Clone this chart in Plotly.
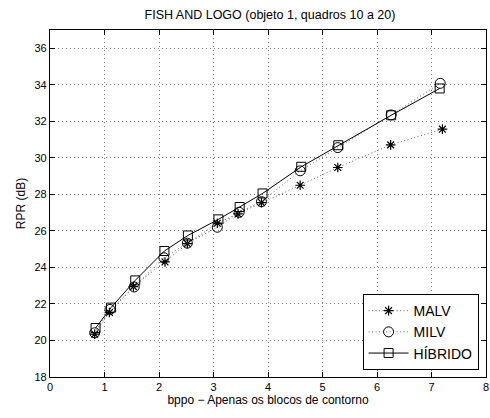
import plotly.graph_objects as go

# Data
malv_x = [0.82, 1.09, 1.53, 2.11, 2.52, 3.07, 3.45, 3.88, 4.59, 5.28, 6.25, 7.20]
malv_y = [20.35, 21.53, 22.95, 24.30, 25.30, 26.42, 26.93, 27.55, 28.50, 29.47, 30.71, 31.57]
milv_x = [0.82, 1.10, 1.545, 2.09, 2.52, 3.07, 3.47, 3.88, 4.59, 5.28, 6.26, 7.16]
milv_y = [20.42, 21.70, 22.93, 24.53, 25.33, 26.20, 27.02, 27.60, 29.29, 30.56, 32.35, 34.08]
hib_x = [0.836, 1.12, 1.564, 2.10, 2.53, 3.09, 3.48, 3.90, 4.61, 5.29, 6.26, 7.15]
hib_y = [20.68, 21.80, 23.29, 24.90, 25.75, 26.63, 27.31, 28.05, 29.51, 30.69, 32.33, 33.80]

x_ticks = [0, 1, 2, 3, 4, 5, 6, 7, 8]
y_ticks = [18, 20, 22, 24, 26, 28, 30, 32, 34, 36]

FONT = "Liberation Sans, Arial, sans-serif"

fig = go.Figure()
fig.add_trace(go.Scatter(
    x=malv_x, y=malv_y, name="MALV", mode="lines+markers",
    line=dict(color="#666666", width=1, dash="1px,2.5px"),
    marker=dict(symbol="asterisk-open", size=8, color="black", line=dict(color="black", width=1.2)),
))
fig.add_trace(go.Scatter(
    x=milv_x, y=milv_y, name="MILV", mode="lines+markers",
    line=dict(color="#666666", width=1, dash="1px,2.5px"),
    marker=dict(symbol="circle-open", size=10, color="black", line=dict(color="black", width=1)),
))
fig.add_trace(go.Scatter(
    x=hib_x, y=hib_y, name="HÍBRIDO", mode="lines+markers",
    line=dict(color="black", width=1),
    marker=dict(symbol="square-open", size=9, color="black", line=dict(color="black", width=1)),
))

axis_common = dict(
    showline=True, linecolor="black", linewidth=1.3, mirror="allticks",
    ticks="inside", ticklen=5, tickcolor="black", tickwidth=1,
    showgrid=True, gridcolor="#777777", griddash="1px,3px", gridwidth=1,
    zeroline=False, tickfont=dict(family=FONT, size=11, color="black"),
    ticklabeloverflow="allow",
)

fig.update_layout(
    width=490, height=418,
    margin=dict(l=50, r=1, t=30, b=41),
    paper_bgcolor="white", plot_bgcolor="white",
    font=dict(family=FONT, size=12, color="black"),
    title=dict(text="FISH AND LOGO (objeto 1, quadros 10 a 20)", x=0.551, xanchor="center",
               y=0.965, yanchor="middle", font=dict(family=FONT, size=12.5, color="black")),
    xaxis=dict(range=[0, 8], tickvals=x_ticks,
               title=dict(text="bppo \u2212 Apenas os blocos de contorno", standoff=2,
                          font=dict(family=FONT, size=12)), **axis_common),
    yaxis=dict(range=[18, 37], tickvals=y_ticks,
               title=dict(text="RPR (dB)", standoff=6, font=dict(family=FONT, size=12)),
               **axis_common),
    legend=dict(x=0.983, y=0.02, xanchor="right", yanchor="bottom",
                bgcolor="white", bordercolor="black", borderwidth=1,
                font=dict(family=FONT, size=14), tracegroupgap=0, itemwidth=40),
    showlegend=True,
)

fig.write_html("out.html")
